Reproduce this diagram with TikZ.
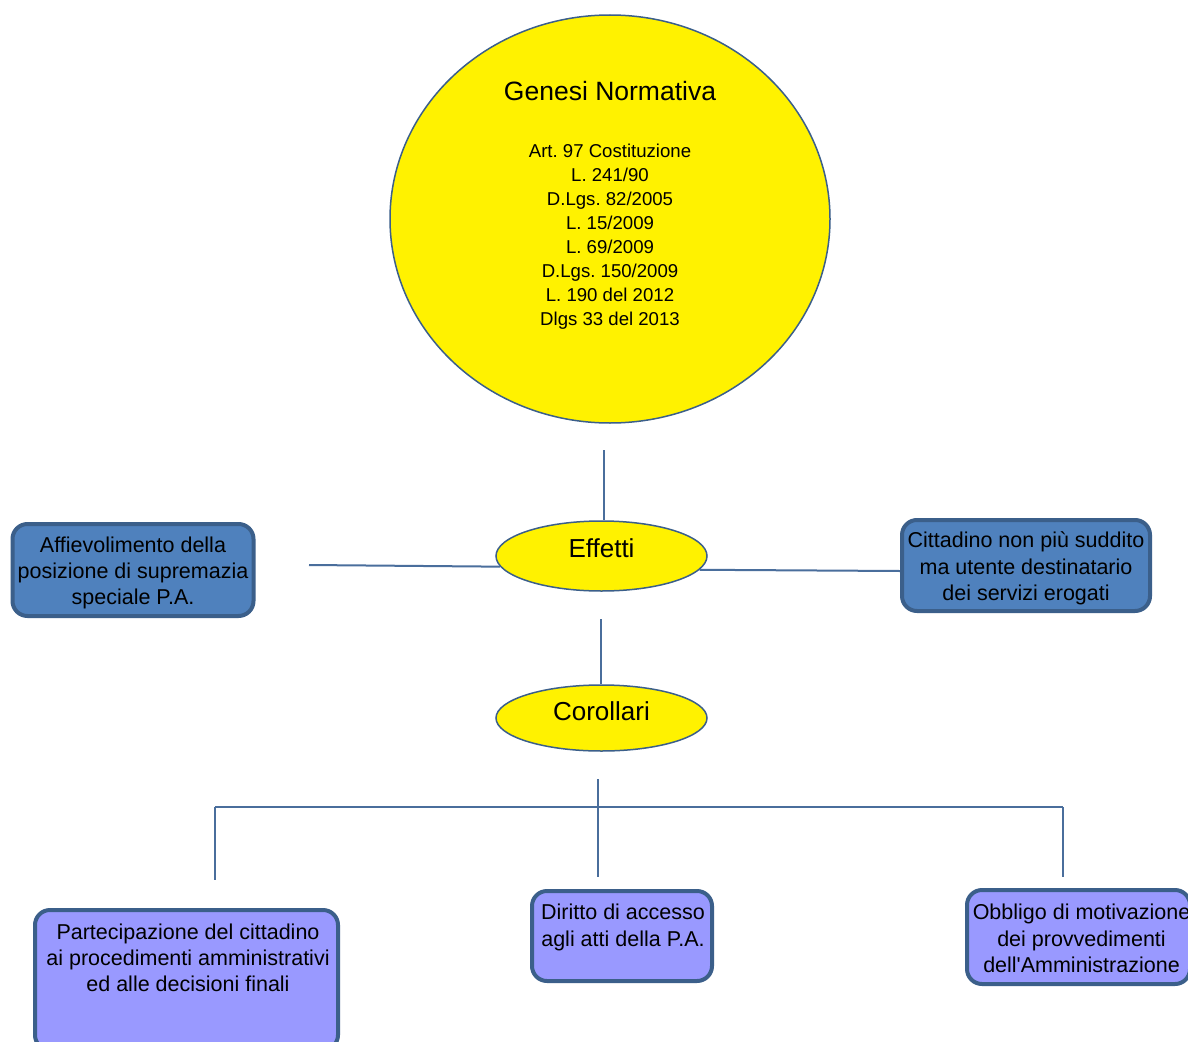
\documentclass[tikz,border=0pt]{standalone}
\usepackage{fontspec}
\setmainfont{Liberation Sans}[Ligatures=TeXOff]
\frenchspacing
\usetikzlibrary{shapes.geometric,calc}
\definecolor{bordblue}{HTML}{3B5F8A}
\definecolor{linkblue}{HTML}{4A6E9C}
\definecolor{boxblue}{HTML}{4F81BD}
\definecolor{boxviolet}{HTML}{9999FF}
\tikzset{
  yell/.style={ellipse, draw=bordblue, line width=1.5pt, fill=yellow, inner sep=0pt},
  bluebox/.style={draw=bordblue, line width=4pt, fill=boxblue, rounded corners=15pt, inner sep=0pt},
  violetbox/.style={bluebox, fill=boxviolet},
  boxtext/.style={inner sep=0pt, align=center, font=\fontsize{21.5}{26.3}\selectfont},
  eltext/.style={inner sep=0pt, font=\fontsize{26}{30}\selectfont},
  link/.style={draw=linkblue, line width=2pt}
}
\begin{document}
\begin{tikzpicture}[x=1pt,y=-1pt]
\clip (0,0) rectangle (1188,1041);
\fill[white] (0,0) rectangle (1188,1041);
% main circle
\node[yell, minimum width=440, minimum height=408] (gen) at (610,219) {};
\node[inner sep=0pt, font=\fontsize{26.5}{30}\selectfont] (gentitle) at (610,91) {Genesi Normativa};
\node[inner sep=0pt, align=center, font=\fontsize{18.6}{24}\selectfont] (genlist) at (610,237)
  {Art. 97 Costituzione\\L. 241/90\\D.Lgs. 82/2005\\L. 15/2009\\L. 69/2009\\D.Lgs. 150/2009\\L. 190 del 2012\\Dlgs 33 del 2013};
% ellipses
\node[yell, minimum width=211, minimum height=70] (eff) at (601.5,556) {};
\node[eltext] (efft) at (601.5,548) {Effetti};
\node[yell, minimum width=211, minimum height=66] (cor) at (601.5,718) {};
\node[eltext] (cort) at (601.5,711) {Corollari};
% side boxes
\node[bluebox, minimum width=241, minimum height=92] (lb) at (133,570) {};
\node[boxtext] (lbt) at (133,573) {Affievolimento della\\posizione di supremazia\\speciale P.A.};
\node[bluebox, minimum width=248, minimum height=91] (rb) at (1026,565.5) {};
\node[boxtext] (rbt) at (1026,568.5) {Cittadino non più suddito\\ma utente destinatario\\dei servizi erogati};
% bottom boxes
\node[violetbox, minimum width=303, minimum height=140] (pb) at (186.5,980) {};
\node[boxtext] (pbt) at (188,958) {Partecipazione del cittadino\\ai procedimenti amministrativi\\ed alle decisioni finali};
\node[violetbox, minimum width=180, minimum height=90] (db) at (622,936) {};
\node[boxtext] (dbt) at (623,927.5) {Diritto di accesso\\agli atti della P.A.};
\node[violetbox, minimum width=223, minimum height=94] (ob) at (1078.5,937) {};
\node[boxtext] (obt) at (1081.5,938.5) {Obbligo di motivazione\\dei provvedimenti\\dell'Amministrazione};
% connector free ends
\coordinate (g0) at (604,450);
\coordinate (l0) at (309,565);
\coordinate (e0) at (601,619);
\coordinate (c1) at (598,779);
\coordinate (c2) at (598,877);
\coordinate (h1) at (215,807);
\coordinate (h2) at (1063,807);
\coordinate (d1) at (215,880);
\coordinate (d2) at (1063,877);
% connectors
\draw[link] (g0) -- (g0 |- eff.north);
\draw[link] (l0) -- (eff.186);
\draw[link] (eff.352) -- ($(rb.west)+(0,5.5)$);
\draw[link] (e0) -- (e0 |- cor.north);
\draw[link] (c1) -- (c2);
\draw[link] (h1) -- (h2);
\draw[link] (h1) -- (d1);
\draw[link] (h2) -- (d2);
\end{tikzpicture}
\end{document}
